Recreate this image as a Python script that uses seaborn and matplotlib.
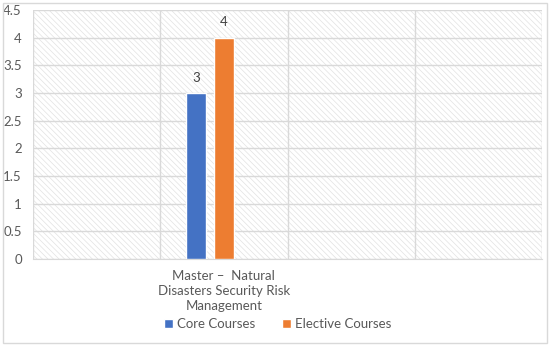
from matplotlib import pyplot as plt
from matplotlib.patches import Patch, Rectangle
import pandas as pd
import seaborn as sns

categories = ["", "Master –  Natural\nDisasters Security Risk\nManagement", " ", "  "]
series = ["Core Courses", "Elective Courses", "Other"]
core_values = [None, 3, None, None]
elective_values = [None, 4, None, None]
other_values = [None, None, None, None]
yticks = [0, 0.5, 1, 1.5, 2, 2.5, 3, 3.5, 4, 4.5]
colors = ["#4472C4", "#ED7D31", "#A5A5A5"]

rows = []
for name, vals in zip(series, [core_values, elective_values, other_values]):
    for cat, v in zip(categories, vals):
        rows.append({"category": cat, "series": name, "value": v})
df = pd.DataFrame(rows)
df["value"] = df["value"].astype(float)

sns.set_style("white")
plt.rcParams["font.family"] = ["Lato", "DejaVu Sans"]
plt.rcParams["hatch.linewidth"] = 0.5
text_color = "#595959"
grid_color = "#d9d9d9"

fig = plt.figure(figsize=(5.5, 3.47), dpi=100)
ax = fig.add_axes([33 / 550, 1 - 259 / 347, 509 / 550, 249 / 347])

# hatched background like Excel's pattern fill
ax.add_patch(Rectangle((0, 0), 1, 1, transform=ax.transAxes, facecolor="white",
                       edgecolor="#e2e2e2", hatch="\\\\\\\\\\\\", linewidth=0, zorder=0))

sns.barplot(data=df, x="category", y="value", hue="series", order=categories,
            hue_order=series, palette=colors, width=0.65, gap=0.28, ax=ax,
            legend=False, saturation=1, zorder=3)

ax.set_xlim(-0.5, len(categories) - 0.5)
ax.set_ylim(0, 4.5)
ax.set_yticks(yticks)
ax.set_yticklabels([f"{t:g}" for t in yticks])
ax.yaxis.grid(True, color=grid_color, linewidth=1, zorder=1)
for b in [i - 0.5 for i in range(len(categories) + 1)]:
    ax.axvline(b, color=grid_color, linewidth=1, zorder=1)
ax.set_axisbelow(True)

for cont in ax.containers:
    for bar in cont:
        h = bar.get_height()
        if h == h and h > 0:
            ax.text(bar.get_x() + bar.get_width() / 2, h + 0.17, f"{h:g}",
                    ha="center", va="bottom", fontsize=9.5, color="#404040")

for s in ["top", "right", "left"]:
    ax.spines[s].set_visible(False)
ax.spines["bottom"].set_color(grid_color)
ax.tick_params(axis="both", length=0, labelsize=9.5, labelcolor=text_color)
ax.tick_params(axis="y", pad=8)
ax.tick_params(axis="x", pad=8)
for lab in ax.get_xticklabels():
    lab.set_linespacing(1.3)
ax.set_xlabel("")
ax.set_ylabel("")

handles = [Patch(facecolor=colors[0], label=series[0]),
           Patch(facecolor=colors[1], label=series[1])]
leg = fig.legend(handles=handles, loc="center", bbox_to_anchor=(0.505, 1 - 324 / 347),
                 ncol=2, frameon=False, fontsize=9.5, handlelength=0.7, handleheight=0.7,
                 handletextpad=0.3, columnspacing=2.0)
for t in leg.get_texts():
    t.set_color(text_color)

fig.patches.append(Rectangle((3 / 550, 4 / 347), 544 / 550, 340 / 347,
                             transform=fig.transFigure, fill=False,
                             edgecolor=grid_color, linewidth=1))

fig.savefig("out.png", dpi=100)
